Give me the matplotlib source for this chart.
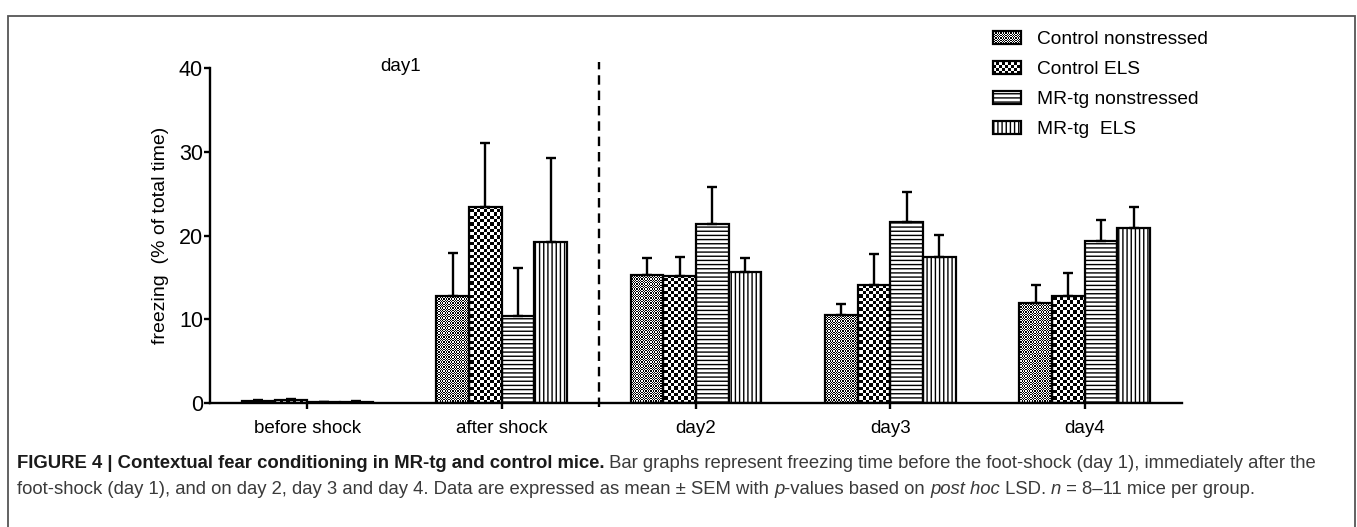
import numpy as np
import matplotlib
matplotlib.use("Agg")
from matplotlib import pyplot as plt
from matplotlib.patches import Rectangle
from matplotlib.legend_handler import HandlerBase
from matplotlib.transforms import IdentityTransform

# data
categories = ["before shock", "after shock", "day2", "day3", "day4"]
groups = ["Control nonstressed", "Control ELS", "MR-tg nonstressed", "MR-tg  ELS"]
ctrl_ns = [0.2, 12.8, 15.3, 10.5, 12.0]
ctrl_els = [0.35, 23.4, 15.2, 14.05, 12.8]
mr_ns = [0.1, 10.4, 21.4, 21.65, 19.35]
mr_els = [0.15, 19.2, 15.7, 17.4, 20.9]
ctrl_ns_sem = [0.1, 5.15, 2.0, 1.3, 2.05]
ctrl_els_sem = [0.15, 7.7, 2.2, 3.75, 2.7]
mr_ns_sem = [0.05, 5.7, 4.35, 3.55, 2.55]
mr_els_sem = [0.05, 10.1, 1.65, 2.7, 2.55]

FONT = ["Liberation Sans", "DejaVu Sans"]
plt.rcParams["font.family"] = FONT
plt.rcParams["hatch.linewidth"] = 1.0

W, H = 1357, 527
fig = plt.figure(figsize=(W / 100, H / 100), dpi=100)
ax = fig.add_axes([210 / W, 1 - 403 / H, 972 / W, 335 / H])

x = np.arange(len(categories))
bw = 0.168
means = [ctrl_ns, ctrl_els, mr_ns, mr_els]
sems = [ctrl_ns_sem, ctrl_els_sem, mr_ns_sem, mr_els_sem]
hatches = [None, None, "----", "||||"]
checker_px = [1.25, 3.3]  # checker square size in pixels for the two control groups

ax.set_xlim(-0.5, 4.5)
ax.set_ylim(0, 40)


def checker(sq):
    nx = int(round(972 / sq))
    ny = int(round(335 / sq))
    return np.add.outer(np.arange(ny), np.arange(nx)) % 2


for i in range(4):
    pos = x + (i - 1.5) * bw
    base = ax.bar(pos, means[i], bw, color="white", edgecolor="none", zorder=1)
    if i < 2:
        arr = checker(checker_px[i])
        for b in base:
            im = ax.imshow(arr, cmap="gray_r", extent=(-0.5, 4.5, 0, 40), origin="lower",
                           aspect="auto", interpolation="nearest", zorder=1.5)
            im.set_clip_path(b)
    ax.bar(pos, means[i], bw, facecolor="none", edgecolor="black", linewidth=1.6,
           hatch=hatches[i], zorder=2,
           yerr=[np.zeros(len(x)), sems[i]],
           error_kw=dict(ecolor="black", elinewidth=1.7, capsize=3.6, capthick=1.7, zorder=2))

ax.set_aspect("auto")
ax.set_xlim(-0.5, 4.5)
ax.set_ylim(0, 40)

# divider between day1 and later days
ax.plot([1.5, 1.5], [-0.5, 40.7], color="black", lw=1.7, ls=(0, (4, 2.5)), clip_on=False, zorder=3)
ax.text(0.48, 40.2, "day1", fontsize=13.5, ha="center", va="center")

for s in ["top", "right"]:
    ax.spines[s].set_visible(False)
for s in ["left", "bottom"]:
    ax.spines[s].set_linewidth(1.7)
ax.set_xticks(x)
ax.set_xticklabels(categories)
ax.set_yticks([0, 10, 20, 30, 40])
ax.tick_params(axis="both", direction="out", length=4.5, width=1.7)
ax.tick_params(axis="x", labelsize=13.5, pad=8)
ax.tick_params(axis="y", labelsize=15.5, pad=0.5)
ax.set_ylabel("freezing  (% of total time)", fontsize=14, labelpad=7)


class CheckerHandler(HandlerBase):
    def __init__(self, sq):
        super().__init__()
        self.sq = sq

    def create_artists(self, legend, orig_handle, xdescent, ydescent, width, height, fontsize, trans):
        sq = self.sq * 72 / 100
        arts = [Rectangle((-xdescent, -ydescent), width, height, facecolor="white",
                          edgecolor="none", transform=trans)]
        nx = int(width / sq)
        ny = int(height / sq)
        for r in range(ny):
            for c in range(nx):
                if (r + c) % 2 == 0:
                    arts.append(Rectangle((-xdescent + c * sq, -ydescent + r * sq), sq, sq,
                                          facecolor="black", edgecolor="none",
                                          antialiased=False, transform=trans))
        arts.append(Rectangle((-xdescent, -ydescent), width, height, facecolor="none",
                              edgecolor="black", lw=1.6, transform=trans))
        return arts


handles = [Rectangle((0, 0), 1, 1, facecolor="white", edgecolor="black", lw=1.6, hatch=h)
           for h in hatches]
hmap = {handles[0]: CheckerHandler(1.25), handles[1]: CheckerHandler(3.0)}
fig.legend(handles, groups, loc="upper left", bbox_to_anchor=(993 / W, 1 - 31 / H),
           frameon=False, fontsize=13.8, handlelength=1.45, handleheight=0.63,
           handletextpad=0.85, labelspacing=0.68, borderpad=0, borderaxespad=0,
           handler_map=hmap)

# frame around the figure panel
fig.patches.append(Rectangle((8, -20), W - 10, H - 8 + 12, transform=IdentityTransform(),
                             facecolor="none", edgecolor="#555555", lw=1.3))

# caption
fig.canvas.draw()
renderer = fig.canvas.get_renderer()


def draw_runs(x0, y0, runs, size):
    xx = x0
    for s, weight, style, col in runs:
        t = fig.text(xx, y0, s, transform=IdentityTransform(), fontsize=size, weight=weight,
                     style=style, color=col, va="baseline", ha="left")
        xx += t.get_window_extent(renderer).width
    return xx


DARK = "#1a1a1a"
GREY = "#3a3a3a"
line1 = [("FIGURE 4 | Contextual fear conditioning in MR-tg and control mice.", "bold", "normal", DARK),
         (" Bar graphs represent freezing time before the foot-shock (day 1), immediately after the",
          "normal", "normal", GREY)]
line2 = [("foot-shock (day 1), and on day 2, day 3 and day 4. Data are expressed as mean \u00b1 SEM with ",
          "normal", "normal", GREY),
         ("p", "normal", "italic", GREY),
         ("-values based on ", "normal", "normal", GREY),
         ("post hoc", "normal", "italic", GREY),
         (" LSD. ", "normal", "normal", GREY),
         ("n", "normal", "italic", GREY),
         (" = 8\u201311 mice per group.", "normal", "normal", GREY)]
draw_runs(17, H - 468, line1, 13.3)
draw_runs(17, H - 494, line2, 13.3)

fig.savefig("out.png", dpi=100)
